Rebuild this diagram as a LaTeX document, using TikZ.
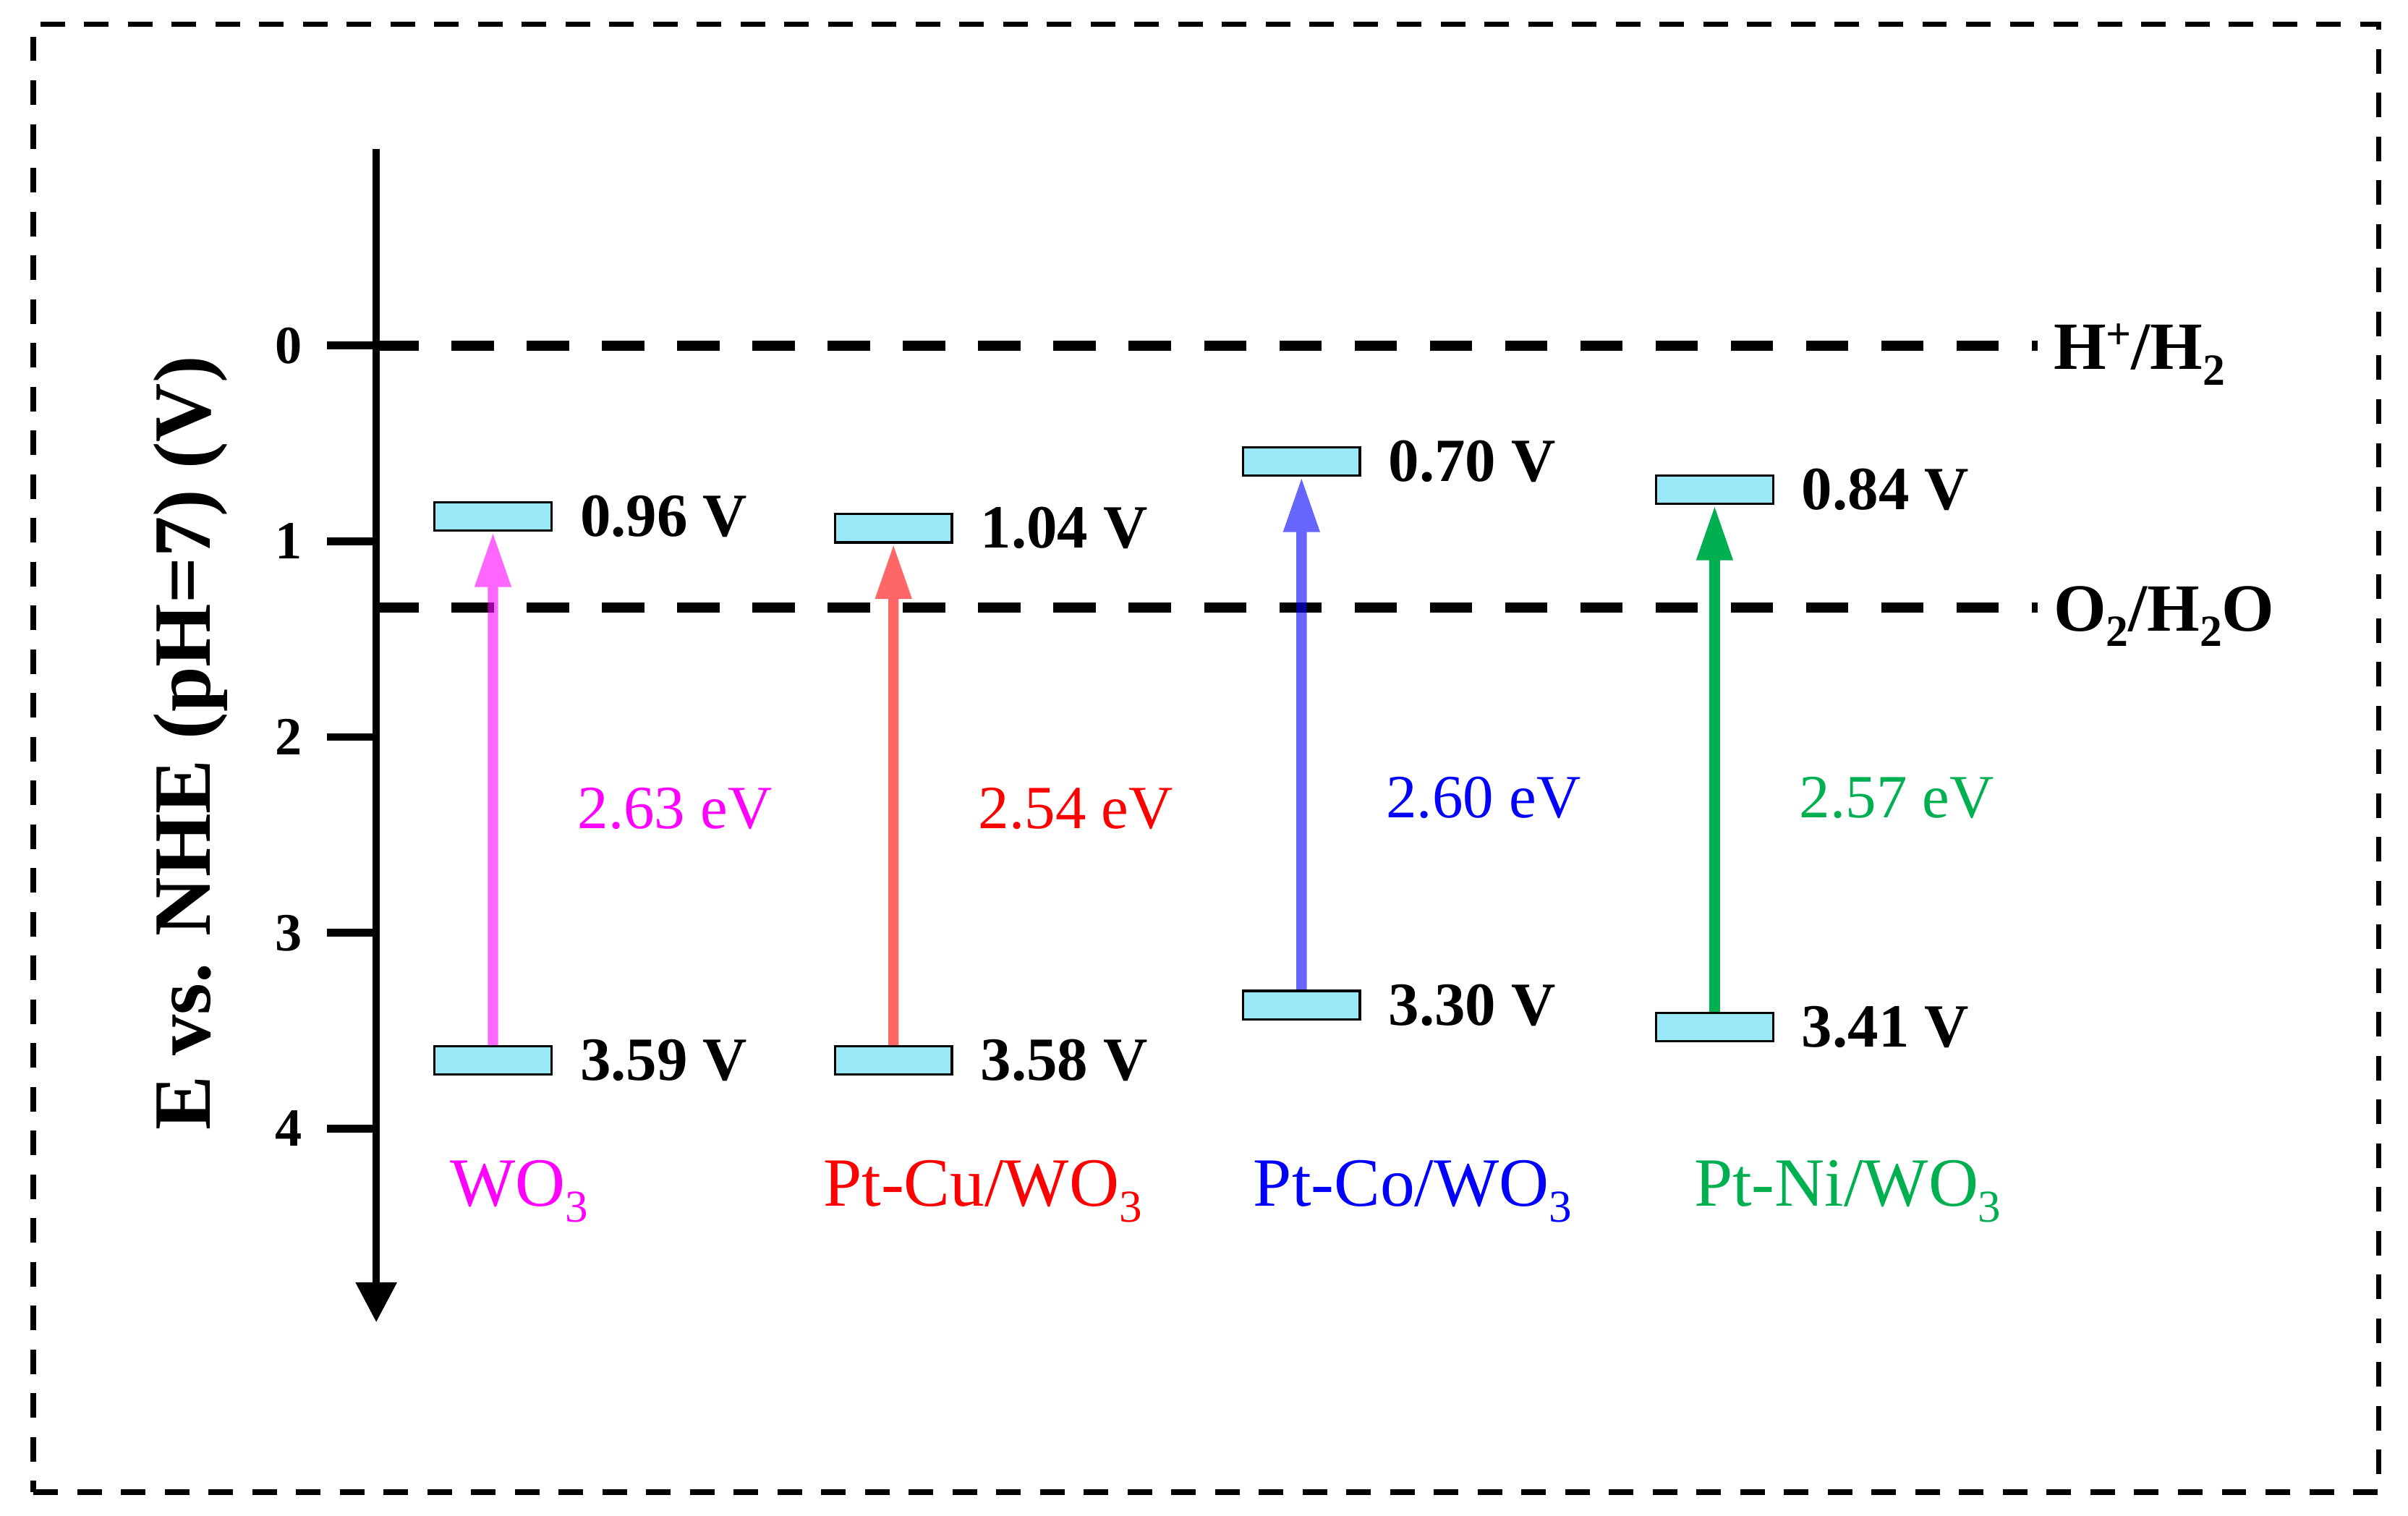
\documentclass[tikz,border=0pt]{standalone}
\usepackage{fontspec}
\setmainfont{Liberation Serif}
\usetikzlibrary{arrows.meta}
\definecolor{bandfill}{RGB}{153,232,248}
\definecolor{ngreen}{RGB}{0,176,80}
\definecolor{pmag}{RGB}{255,0,255}
\definecolor{pred}{RGB}{255,0,0}
\definecolor{pblue}{RGB}{0,0,255}
\newcommand{\mysub}[1]{\raisebox{-0.23em}{\scalebox{0.66}{#1}}}
\newcommand{\mysup}[1]{\raisebox{0.3em}{\scalebox{0.66}{#1}}}
\begin{document}
\begin{tikzpicture}[x=1pt,y=-1pt,
  frame/.style={line width=3.5pt, dash pattern=on 16pt off 12.5pt},
  refline/.style={line width=6.5pt, dash pattern=on 27.5pt off 21.5pt},
  band/.style={draw=black, line width=1.5pt, fill=bandfill, minimum width=76pt, minimum height=18.5pt, inner sep=0pt},
  val/.style={font=\fontsize{40}{44}\selectfont\bfseries, anchor=west, inner sep=0pt},
  gaplab/.style={font=\fontsize{40}{44}\selectfont, anchor=base west, inner sep=0pt},
  matlab/.style={font=\fontsize{45}{50}\selectfont, anchor=base west, inner sep=0pt},
  reflab/.style={font=\fontsize{44}{50}\selectfont\bfseries, anchor=base west, inner sep=0pt},
  tickline/.style={line width=5pt},
  ticklab/.style={font=\fontsize{35}{40}\selectfont\bfseries, anchor=east, inner sep=0pt},
  exc/.style={line width=6.8pt, -{Triangle[length=36pt,width=22pt]}},
]
\useasboundingbox (0,0) rectangle (1568,987);

% frame
\coordinate (fbl) at (21.7,971.7);
\coordinate (fbr) at (1549,971.7);
\coordinate (ftr) at (1549,15.8);
\coordinate (ftl) at (21.7,15.8);
\draw[frame] (fbl) -- (fbr) -- (ftr) -- (ftl) -- cycle;

% reference lines
\coordinate (h1) at (245,225);
\coordinate (h2) at (1327,225);
\coordinate (o1) at (245,395.6);
\coordinate (o2) at (1327,395.6);
\draw[refline] (h1) -- (h2);
\draw[refline] (o1) -- (o2);
\node[reflab] (hlab) at (1337,240.5) {H\mysup{+}/H\mysub{2}};
\node[reflab] (olab) at (1337,410.8) {O\mysub{2}/H\mysub{2}O};

% axis
\coordinate (axtop) at (245,97);
\coordinate (axbot) at (245,861);
\draw[line width=4.5pt, -{Triangle[length=26pt,width=26pt]}] (axtop) -- (axbot);
\foreach \k in {0,...,4} {
  \coordinate (t\k) at (213,{225+127.5*\k});
  \coordinate (a\k) at (245,{225+127.5*\k});
  \draw[tickline] (t\k) -- (a\k);
  \node[ticklab] (tl\k) at (197,{225+127.5*\k}) {\k};
}
\node[font=\fontsize{53}{60}\selectfont\bfseries, rotate=90, anchor=base, inner sep=0pt] (ylab) at (136.6,484) {E vs. NHE (pH=7) (V)};

% bands
\node[band] (wcb) at (321,336.3) {};
\node[band] (wvb) at (321,690.5) {};
\node[band] (ccb) at (581.8,344) {};
\node[band] (cvb) at (581.8,690.5) {};
\node[band] (kcb) at (847.5,300.5) {};
\node[band] (kvb) at (847.5,654.5) {};
\node[band] (ncb) at (1116.5,318.9) {};
\node[band] (nvb) at (1116.5,668.8) {};

% excitation arrows
\begin{scope}[transparency group, opacity=0.6]
\draw[exc, pmag] (wvb.north) -- (wcb.south);
\end{scope}
\begin{scope}[transparency group, opacity=0.6]
\draw[exc, pred] (cvb.north) -- (ccb.south);
\end{scope}
\begin{scope}[transparency group, opacity=0.6]
\draw[exc, pblue] (kvb.north) -- (kcb.south);
\end{scope}
\draw[exc, ngreen] (nvb.north) -- (ncb.south);

% redraw bands on top
\node[band] at (wcb) {};
\node[band] at (wvb) {};
\node[band] at (ccb) {};
\node[band] at (cvb) {};
\node[band] at (kcb) {};
\node[band] at (kvb) {};
\node[band] at (ncb) {};
\node[band] at (nvb) {};

% values
\node[val] (wcbv) at ([xshift=17.8pt]wcb.east) {0.96 V};
\node[val] (wvbv) at ([xshift=17.8pt]wvb.east) {3.59 V};
\node[val] (ccbv) at ([xshift=17.8pt]ccb.east) {1.04 V};
\node[val] (cvbv) at ([xshift=17.8pt]cvb.east) {3.58 V};
\node[val] (kcbv) at ([xshift=17.8pt]kcb.east) {0.70 V};
\node[val] (kvbv) at ([xshift=17.8pt]kvb.east) {3.30 V};
\node[val] (ncbv) at ([xshift=17.8pt]ncb.east) {0.84 V};
\node[val] (nvbv) at ([xshift=17.8pt]nvb.east) {3.41 V};

% gap labels
\node[gaplab, text=pmag] (wgap) at (376,539.4) {2.63 eV};
\node[gaplab, text=pred] (cgap) at (637,539.4) {2.54 eV};
\node[gaplab, text=pblue] (kgap) at (902.5,532.7) {2.60 eV};
\node[gaplab, text=ngreen] (ngap) at (1171.6,532.7) {2.57 eV};

% material labels
\node[matlab, text=pmag] (wname) at (293,785.6) {WO\mysub{3}};
\node[matlab, text=pred] (cname) at (536,785.6) {Pt-Cu/WO\mysub{3}};
\node[matlab, text=pblue] (kname) at (816,785.6) {Pt-Co/WO\mysub{3}};
\node[matlab, text=ngreen] (nname) at (1103,785.6) {Pt-Ni/WO\mysub{3}};
\end{tikzpicture}
\end{document}
